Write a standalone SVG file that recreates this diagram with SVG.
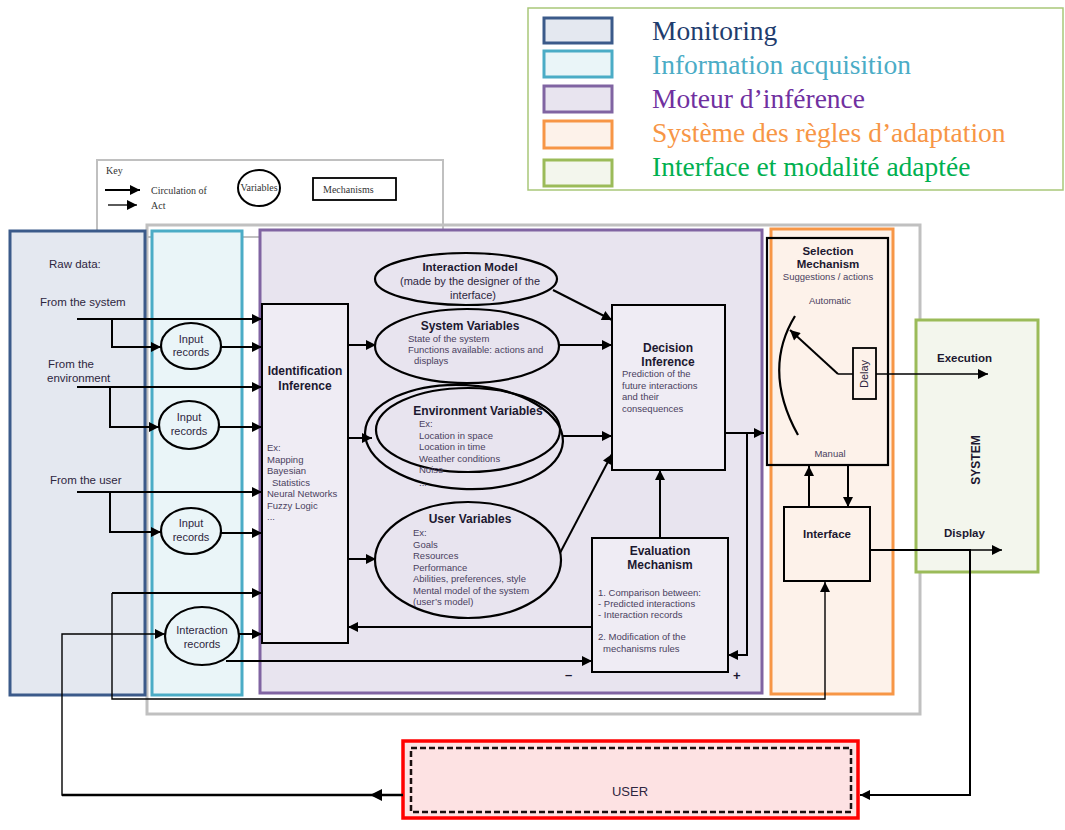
<svg xmlns="http://www.w3.org/2000/svg" width="1065" height="830" viewBox="0 0 1065 830">
<style>
.t{font-family:"Liberation Sans",Arial,sans-serif;fill:#2e2640}
.b{font-family:"Liberation Sans",Arial,sans-serif;font-weight:bold;fill:#1c1830}
.s{font-family:"Liberation Sans",Arial,sans-serif;fill:#4a3f60;font-size:9.5px}
.lg{font-family:"Liberation Serif","Times New Roman",serif;font-size:27.5px}
.k{font-family:"Liberation Serif","Times New Roman",serif;font-size:10px;fill:#333}
.c{stroke:#000;stroke-width:2;fill:none}
.c1{stroke:#000;stroke-width:1.4;fill:none}
</style>
<defs>
<marker id="ah" viewBox="0 0 10 10" refX="10" refY="5" markerWidth="11" markerHeight="10" markerUnits="userSpaceOnUse" orient="auto"><path d="M0,0 L10,5 L0,10 z" fill="#000"/></marker>
</defs>
<rect width="1065" height="830" fill="#fff"/>

<g id="legend">
<rect x="528" y="8" width="535" height="182" fill="#fff" stroke="#a9c779" stroke-width="1.5"/>
<rect x="544" y="18" width="68" height="25" fill="#e4e8f0" stroke="#3b5a8a" stroke-width="3"/>
<rect x="544" y="51" width="68" height="26" fill="#eaf5f8" stroke="#4bacc6" stroke-width="3"/>
<rect x="544" y="86" width="68" height="26" fill="#e8e4ef" stroke="#8064a2" stroke-width="3"/>
<rect x="544" y="121" width="68" height="27" fill="#fdf2ea" stroke="#f79646" stroke-width="3"/>
<rect x="544" y="160" width="68" height="26" fill="#f3f6ed" stroke="#9bbb59" stroke-width="3"/>
<text class="lg" x="652" y="40" fill="#1f3d6e">Monitoring</text>
<text class="lg" x="652" y="74" fill="#4bacc6">Information acquisition</text>
<text class="lg" x="652" y="108" fill="#7030a0">Moteur d’inférence</text>
<text class="lg" x="652" y="142" fill="#f79646">Système des règles d’adaptation</text>
<text class="lg" x="652" y="176" fill="#00b050">Interface et modalité adaptée</text>
</g>

<g id="key">
<rect x="97" y="160" width="346" height="77" fill="#fff" stroke="#c0c0c0" stroke-width="2"/>
<text class="k" x="106" y="174">Key</text>
<line x1="105" y1="190" x2="140" y2="190" stroke="#000" stroke-width="2" marker-end="url(#ah)"/>
<line x1="108" y1="205" x2="137" y2="205" stroke="#000" stroke-width="1.3" marker-end="url(#ah)"/>
<text class="k" x="151" y="194">Circulation of</text>
<text class="k" x="151" y="209">Act</text>
<ellipse cx="259" cy="188" rx="21" ry="18" fill="#fff" stroke="#000" stroke-width="2"/>
<text class="k" x="259" y="191" text-anchor="middle" font-size="9">Variables</text>
<rect x="313" y="178" width="83" height="22" fill="#fff" stroke="#000" stroke-width="1.8"/>
<text class="k" x="323" y="193">Mechanisms</text>
</g>

<g id="frame">
<rect x="147" y="225" width="773" height="489" fill="none" stroke="#c0c0c0" stroke-width="3"/>
</g>

<g id="monitoring">
<rect x="10" y="231" width="135" height="464" fill="#e4e8f0" stroke="#3b5a8a" stroke-width="3"/>
<text class="t" x="49" y="268" font-size="11.5">Raw data:</text>
<text class="t" x="40" y="306" font-size="11.5">From the system</text>
<text class="t" x="48" y="368" font-size="11.5">From the</text>
<text class="t" x="47" y="382" font-size="11.5">environment</text>
<text class="t" x="50" y="484" font-size="11.5">From the user</text>
</g>

<g id="acquisition">
<rect x="152" y="231" width="90" height="464" fill="#eaf5f8" stroke="#4bacc6" stroke-width="3"/>
</g>

<g id="moteur">
<rect x="260" y="230" width="502" height="463" fill="#e8e4ef" stroke="#8064a2" stroke-width="3"/>
</g>

<g id="regles">
<rect x="771" y="229" width="122" height="465" fill="#fdf2ea" stroke="#f79646" stroke-width="3"/>
</g>

<g id="system">
<rect x="916" y="320" width="122" height="252" fill="#f3f6ed" stroke="#9bbb59" stroke-width="3"/>
<text class="b" x="937" y="362" font-size="11.5">Execution</text>
<text class="b" x="944" y="537" font-size="11.5">Display</text>
<text class="b" x="0" y="0" font-size="12" text-anchor="middle" transform="translate(980,460) rotate(-90)">SYSTEM</text>
</g>

<g id="user">
<rect x="403" y="741" width="455" height="77" fill="#fde2e3" stroke="#ff0000" stroke-width="3.5"/>
<rect x="411" y="748" width="440" height="64" fill="none" stroke="#1a1010" stroke-width="2.5" stroke-dasharray="6,3"/>
<text class="t" x="630" y="796" font-size="13" text-anchor="middle" fill="#222">USER</text>
</g>

<g id="input1">
<ellipse cx="191" cy="346" rx="30" ry="23" fill="#eaf5f8" stroke="#000" stroke-width="2.2"/>
<text class="t" x="191" y="343" font-size="11" text-anchor="middle">Input</text>
<text class="t" x="191" y="356" font-size="11" text-anchor="middle">records</text>
</g>
<g id="input2">
<ellipse cx="189" cy="425" rx="30" ry="24" fill="#eaf5f8" stroke="#000" stroke-width="2.2"/>
<text class="t" x="189" y="421" font-size="11" text-anchor="middle">Input</text>
<text class="t" x="189" y="435" font-size="11" text-anchor="middle">records</text>
</g>
<g id="input3">
<ellipse cx="191" cy="531" rx="30" ry="23" fill="#eaf5f8" stroke="#000" stroke-width="2.2"/>
<text class="t" x="191" y="527" font-size="11" text-anchor="middle">Input</text>
<text class="t" x="191" y="541" font-size="11" text-anchor="middle">records</text>
</g>
<g id="interaction-records">
<ellipse cx="202" cy="636" rx="37" ry="29" fill="#eaf5f8" stroke="#000" stroke-width="2.2"/>
<text class="t" x="202" y="634" font-size="11" text-anchor="middle">Interaction</text>
<text class="t" x="202" y="648" font-size="11" text-anchor="middle">records</text>
</g>

<g id="identification">
<rect x="262" y="304" width="86" height="339" fill="#efecf4" stroke="#000" stroke-width="2"/>
<text class="b" x="305" y="375" font-size="12" text-anchor="middle">Identification</text>
<text class="b" x="305" y="390" font-size="12" text-anchor="middle">Inference</text>
<text class="s" x="267" y="451">Ex:</text>
<text class="s" x="267" y="463">Mapping</text>
<text class="s" x="267" y="474">Bayesian</text>
<text class="s" x="272" y="486">Statistics</text>
<text class="s" x="267" y="497">Neural Networks</text>
<text class="s" x="267" y="509">Fuzzy Logic</text>
<text class="s" x="267" y="520">...</text>
</g>

<g id="interaction-model">
<ellipse cx="466" cy="279" rx="91" ry="26" fill="#e8e4ef" stroke="#000" stroke-width="2.2"/>
<text class="b" x="470" y="271" font-size="11.5" text-anchor="middle">Interaction Model</text>
<text class="t" x="470" y="285" font-size="11" text-anchor="middle">(made by the designer of the</text>
<text class="t" x="473" y="299" font-size="11" text-anchor="middle">interface)</text>
</g>

<g id="system-variables">
<ellipse cx="467" cy="346" rx="92" ry="37" fill="#e8e4ef" stroke="#000" stroke-width="2.2"/>
<text class="b" x="470" y="330" font-size="12" text-anchor="middle">System Variables</text>
<text class="s" x="408" y="342">State of the system</text>
<text class="s" x="408" y="353">Functions available: actions and</text>
<text class="s" x="414" y="364">displays</text>
</g>

<g id="environment-variables">
<ellipse cx="464" cy="437" rx="99" ry="52" fill="none" stroke="#000" stroke-width="2.2" transform="rotate(3 464 437)"/>
<ellipse cx="468" cy="430" rx="92" ry="42" fill="none" stroke="#000" stroke-width="2.2"/>
<text class="b" x="478" y="415" font-size="12" text-anchor="middle">Environment Variables</text>
<text class="s" x="419" y="427">Ex:</text>
<text class="s" x="419" y="439">Location in space</text>
<text class="s" x="419" y="450">Location in time</text>
<text class="s" x="419" y="462">Weather conditions</text>
<text class="s" x="419" y="473">Noise</text>
<text class="s" x="419" y="486">...</text>
</g>

<g id="user-variables">
<ellipse cx="468" cy="560" rx="93" ry="58" fill="#e8e4ef" stroke="#000" stroke-width="2.2"/>
<text class="b" x="470" y="523" font-size="12" text-anchor="middle">User Variables</text>
<text class="s" x="413" y="536">Ex:</text>
<text class="s" x="413" y="548">Goals</text>
<text class="s" x="413" y="559">Resources</text>
<text class="s" x="413" y="571">Performance</text>
<text class="s" x="413" y="582">Abilities, preferences, style</text>
<text class="s" x="413" y="594">Mental model of the system</text>
<text class="s" x="413" y="605">(user’s   model)</text>
</g>

<g id="decision">
<rect x="612" y="305" width="113" height="165" fill="#efecf4" stroke="#000" stroke-width="2"/>
<text class="b" x="668" y="352" font-size="12" text-anchor="middle">Decision</text>
<text class="b" x="668" y="366" font-size="12" text-anchor="middle">Inference</text>
<text class="s" x="622" y="377">Prediction of the</text>
<text class="s" x="622" y="389">future interactions</text>
<text class="s" x="622" y="400">and their</text>
<text class="s" x="622" y="412">consequences</text>
</g>

<g id="evaluation">
<rect x="592" y="538" width="136" height="134" fill="#efecf4" stroke="#000" stroke-width="2"/>
<text class="b" x="660" y="555" font-size="12" text-anchor="middle">Evaluation</text>
<text class="b" x="660" y="569" font-size="12" text-anchor="middle">Mechanism</text>
<text class="s" x="598" y="596">1. Comparison between:</text>
<text class="s" x="598" y="607">- Predicted interactions</text>
<text class="s" x="598" y="618">- Interaction records</text>
<text class="s" x="598" y="640">2. Modification of the</text>
<text class="s" x="603" y="652">mechanisms rules</text>
</g>

<g id="selection">
<rect x="767" y="238" width="121" height="227" fill="none" stroke="#000" stroke-width="2.2"/>
<text class="b" x="828" y="255" font-size="11.5" text-anchor="middle">Selection</text>
<text class="b" x="828" y="268" font-size="11.5" text-anchor="middle">Mechanism</text>
<text class="s" x="828" y="280" text-anchor="middle">Suggestions / actions</text>
<text class="s" x="830" y="304" text-anchor="middle">Automatic</text>
<text class="s" x="830" y="457" text-anchor="middle">Manual</text>
<path d="M795,316 Q762,370 798,435" fill="none" stroke="#000" stroke-width="2.2"/>
<line x1="838" y1="374" x2="790" y2="330" stroke="#000" stroke-width="2" marker-end="url(#ah)"/>
<line x1="838" y1="374" x2="853" y2="374" stroke="#000" stroke-width="1.5"/>
</g>
<g id="delay">
<rect x="853" y="348" width="23" height="51" fill="#fdf2ea" stroke="#000" stroke-width="1.8"/>
<text class="t" x="0" y="0" font-size="11" text-anchor="middle" transform="translate(868,374) rotate(-90)">Delay</text>
</g>

<g id="interface">
<rect x="784" y="507" width="86" height="74" fill="#fdf2ea" stroke="#000" stroke-width="2"/>
<text class="b" x="827" y="538" font-size="11.5" text-anchor="middle">Interface</text>
</g>

<g id="connectors">
<line x1="77" y1="319" x2="262" y2="319" class="c" marker-end="url(#ah)"/>
<polyline points="112,319 112,347 161,347" class="c" marker-end="url(#ah)"/>
<line x1="221" y1="347" x2="262" y2="347" class="c" marker-end="url(#ah)"/>
<line x1="77" y1="387" x2="262" y2="387" class="c" marker-end="url(#ah)"/>
<polyline points="110,387 110,427 159,427" class="c" marker-end="url(#ah)"/>
<line x1="219" y1="427" x2="262" y2="427" class="c" marker-end="url(#ah)"/>
<line x1="77" y1="492" x2="262" y2="492" class="c" marker-end="url(#ah)"/>
<polyline points="110,492 110,532 161,532" class="c" marker-end="url(#ah)"/>
<line x1="221" y1="533" x2="262" y2="533" class="c" marker-end="url(#ah)"/>
<line x1="112" y1="593" x2="262" y2="593" class="c" marker-end="url(#ah)"/>
<line x1="239" y1="634" x2="262" y2="634" class="c" marker-end="url(#ah)"/>
<polyline points="112,593 112,699 825,699 825,582" class="c1" marker-end="url(#ah)"/>
<polyline points="403,795 62,795 62,634 165,634" class="c1" marker-end="url(#ah)"/>
<line x1="62" y1="795" x2="403" y2="795" stroke="#000" stroke-width="2.5"/>
<path d="M370,795 L382,789 L382,801 z" fill="#000"/>
<polyline points="870,550 970,550 970,795 860,795" class="c" marker-end="url(#ah)"/>
<line x1="870" y1="550" x2="1002" y2="550" class="c1" marker-end="url(#ah)"/>
<line x1="876" y1="374" x2="988" y2="374" class="c1" marker-end="url(#ah)"/>
<line x1="348" y1="345" x2="376" y2="345" class="c" marker-end="url(#ah)"/>
<line x1="348" y1="438" x2="372" y2="438" class="c" marker-end="url(#ah)"/>
<line x1="348" y1="559" x2="376" y2="559" class="c" marker-end="url(#ah)"/>
<line x1="553" y1="290" x2="612" y2="320" class="c" marker-end="url(#ah)"/>
<line x1="559" y1="345" x2="612" y2="345" class="c" marker-end="url(#ah)"/>
<line x1="562" y1="436" x2="612" y2="436" class="c" marker-end="url(#ah)"/>
<line x1="560" y1="553" x2="612" y2="454" class="c" marker-end="url(#ah)"/>
<line x1="660" y1="538" x2="660" y2="470" class="c" marker-end="url(#ah)"/>
<line x1="592" y1="627" x2="348" y2="627" class="c" marker-end="url(#ah)"/>
<line x1="226" y1="661" x2="592" y2="661" class="c" marker-end="url(#ah)"/>
<line x1="725" y1="433" x2="764" y2="433" class="c" marker-end="url(#ah)"/>
<polyline points="747,433 747,655 728,655" class="c" marker-end="url(#ah)"/>
<line x1="809" y1="507" x2="809" y2="466" class="c" marker-end="url(#ah)"/>
<line x1="848" y1="466" x2="848" y2="507" class="c" marker-end="url(#ah)"/>
</g>
<text class="b" x="565" y="679" font-size="13">–</text>
<text class="b" x="733" y="680" font-size="13">+</text>
</svg>
